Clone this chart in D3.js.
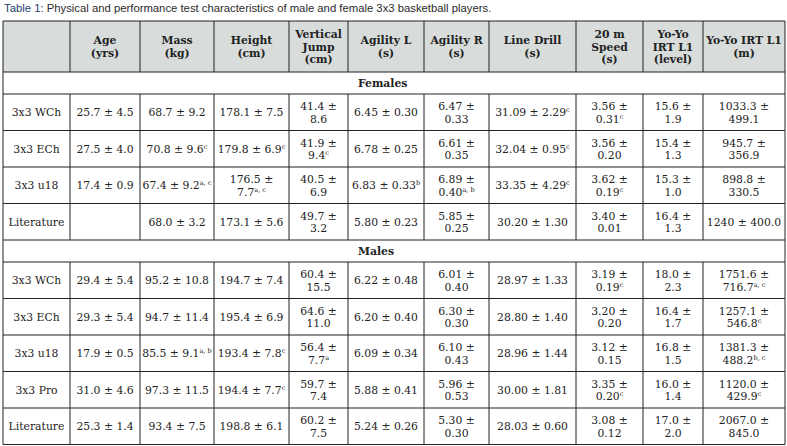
<!DOCTYPE html>
<html>
<head>
<meta charset="utf-8">
<script src="https://cdn.jsdelivr.net/npm/d3@7"></script>
<style>
body { margin: 0; background: #fff; }
</style>
</head>
<body>
<div id="table"></div>
<script>
// cell text: "|" = line break, "^x" = superscript up to next "|" or end
var headers = ["", "Age|(yrs)", "Mass|(kg)", "Height|(cm)", "Vertical|Jump|(cm)", "Agility L|(s)",
    "Agility R|(s)", "Line Drill|(s)", "20 m|Speed|(s)", "Yo-Yo|IRT L1|(level)", "Yo-Yo IRT L1|(m)"];

var femaleRows = [
    ["3x3 WCh", "25.7 ± 4.5", "68.7 ± 9.2", "178.1 ± 7.5", "41.4 ±|8.6", "6.45 ± 0.30", "6.47 ±|0.33", "31.09 ± 2.29^c", "3.56 ±|0.31^c", "15.6 ±|1.9", "1033.3 ±|499.1"],
    ["3x3 ECh", "27.5 ± 4.0", "70.8 ± 9.6^c", "179.8 ± 6.9^c", "41.9 ±|9.4^c", "6.78 ± 0.25", "6.61 ±|0.35", "32.04 ± 0.95^c", "3.56 ±|0.20", "15.4 ±|1.3", "945.7 ±|356.9"],
    ["3x3 u18", "17.4 ± 0.9", "67.4 ± 9.2^a, c", "176.5 ±|7.7^a, c", "40.5 ±|6.9", "6.83 ± 0.33^b", "6.89 ±|0.40^a, b", "33.35 ± 4.29^c", "3.62 ±|0.19^c", "15.3 ±|1.0", "898.8 ±|330.5"],
    ["Literature", "", "68.0 ± 3.2", "173.1 ± 5.6", "49.7 ±|3.2", "5.80 ± 0.23", "5.85 ±|0.25", "30.20 ± 1.30", "3.40 ±|0.01", "16.4 ±|1.3", "1240 ± 400.0"]
];

var maleRows = [
    ["3x3 WCh", "29.4 ± 5.4", "95.2 ± 10.8", "194.7 ± 7.4", "60.4 ±|15.5", "6.22 ± 0.48", "6.01 ±|0.40", "28.97 ± 1.33", "3.19 ±|0.19^c", "18.0 ±|2.3", "1751.6 ±|716.7^a, c"],
    ["3x3 ECh", "29.3 ± 5.4", "94.7 ± 11.4", "195.4 ± 6.9", "64.6 ±|11.0", "6.20 ± 0.40", "6.30 ±|0.30", "28.80 ± 1.40", "3.20 ±|0.20", "16.4 ±|1.7", "1257.1 ±|546.8^c"],
    ["3x3 u18", "17.9 ± 0.5", "85.5 ± 9.1^a, b", "193.4 ± 7.8^c", "56.4 ±|7.7^a", "6.09 ± 0.34", "6.10 ±|0.43", "28.96 ± 1.44", "3.12 ±|0.15", "16.8 ±|1.5", "1381.3 ±|488.2^b, c"],
    ["3x3 Pro", "31.0 ± 4.6", "97.3 ± 11.5", "194.4 ± 7.7^c", "59.7 ±|7.4", "5.88 ± 0.41", "5.96 ±|0.53", "30.00 ± 1.81", "3.35 ±|0.20^c", "16.0 ±|1.4", "1120.0 ±|429.9^c"],
    ["Literature", "25.3 ± 1.4", "93.4 ± 7.5", "198.8 ± 6.1", "60.2 ±|7.5", "5.24 ± 0.26", "5.30 ±|0.30", "28.03 ± 0.60", "3.08 ±|0.12", "17.0 ±|2.0", "2067.0 ±|845.0"]
];

var sections = ["Females", "Males"];

var svgWidth = 787, svgHeight = 446;
var colEdges = [3, 70, 140, 214, 289, 348, 424, 489, 576, 643, 703, 785];
var serif = "'DejaVu Serif', serif";

var svg = d3.select("#table").append("svg")
    .attr("width", svgWidth)
    .attr("height", svgHeight)
    .style("display", "block");

// title
var title = svg.append("text")
    .attr("x", 4).attr("y", 12)
    .attr("font-family", "'Liberation Sans', Arial, sans-serif")
    .attr("font-size", 11.3)
    .attr("fill", "#2b2b2b");
title.append("tspan").attr("fill", "#1f3d6e").text("Table 1: ");
title.append("tspan").text("Physical and performance test characteristics of male and female 3x3 basketball players.");

// row layout: header, section, 4 rows, section, 5 rows
var rowSpecs = [{type: "header", h: 51}];
sections.forEach(function(s, si) {
    rowSpecs.push({type: "section", h: 22, label: s});
    (si === 0 ? femaleRows : maleRows).forEach(function(r) {
        rowSpecs.push({type: "data", h: 36.5, cells: r});
    });
});
var y0 = 21;
rowSpecs.forEach(function(r) { r.y = y0; y0 += r.h; });

function drawCell(g, x0, x1, y, h, txt, bold) {
    var lines = txt.split("|");
    var lh = 12.5;
    var startY = y + h / 2 - (lines.length - 1) * lh / 2 + 4;
    lines.forEach(function(line, i) {
        var parts = line.split("^");
        var t = g.append("text")
            .attr("x", (x0 + x1) / 2)
            .attr("y", startY + i * lh)
            .attr("text-anchor", "middle")
            .attr("font-family", serif)
            .attr("font-size", bold ? 10.8 : 10.8)
            .attr("font-weight", bold ? "bold" : "normal")
            .attr("fill", "#222");
        t.append("tspan").text(parts[0]);
        if (parts[1]) {
            t.append("tspan").attr("font-size", 6.5).attr("dy", -4).text(parts[1]);
        }
    });
}

var tableG = svg.append("g");

rowSpecs.forEach(function(r) {
    if (r.type === "header") {
        tableG.append("rect")
            .attr("x", colEdges[0]).attr("y", r.y)
            .attr("width", colEdges[colEdges.length - 1] - colEdges[0]).attr("height", r.h)
            .attr("fill", "#d8dddc");
        headers.forEach(function(hd, i) {
            drawCell(tableG, colEdges[i], colEdges[i + 1], r.y, r.h, hd, true);
        });
    } else if (r.type === "section") {
        tableG.append("text")
            .attr("x", colEdges[5] + 10).attr("y", r.y + r.h / 2 + 4)
            .attr("font-family", serif).attr("font-size", 10.8)
            .attr("font-weight", "bold").attr("fill", "#222")
            .text(r.label);
    } else {
        r.cells.forEach(function(c, i) {
            drawCell(tableG, colEdges[i], colEdges[i + 1], r.y, r.h, c, false);
        });
    }
});

// grid lines
var gridColor = "#222";
var top = rowSpecs[0].y, bottom = y0;
rowSpecs.forEach(function(r) {
    tableG.append("line")
        .attr("x1", colEdges[0]).attr("x2", colEdges[colEdges.length - 1])
        .attr("y1", r.y).attr("y2", r.y)
        .attr("stroke", gridColor).attr("stroke-width", 1);
});
tableG.append("line")
    .attr("x1", colEdges[0]).attr("x2", colEdges[colEdges.length - 1])
    .attr("y1", bottom).attr("y2", bottom)
    .attr("stroke", gridColor).attr("stroke-width", 1);

colEdges.forEach(function(x, i) {
    var edge = (i === 0 || i === colEdges.length - 1);
    rowSpecs.forEach(function(r) {
        if (r.type === "section" && !edge) return;
        tableG.append("line")
            .attr("x1", x).attr("x2", x)
            .attr("y1", r.y).attr("y2", r.y + r.h)
            .attr("stroke", gridColor).attr("stroke-width", 1);
    });
});
</script>
</body>
</html>
